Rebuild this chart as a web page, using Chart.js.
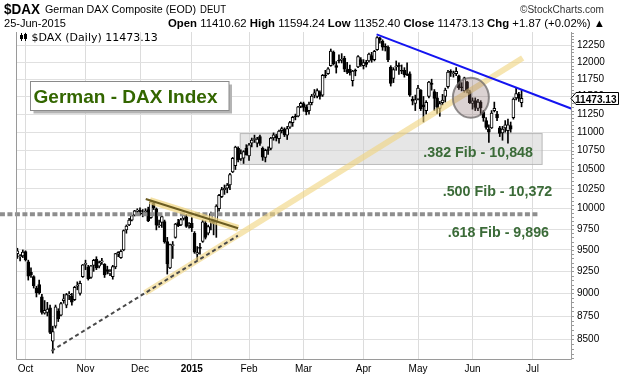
<!DOCTYPE html>
<html><head><meta charset="utf-8">
<script src="https://cdn.jsdelivr.net/npm/chart.js@4.4.1/dist/chart.umd.min.js"></script>
<style>html,body{margin:0;padding:0;background:#fff;}#wrap{width:620px;height:376px;position:relative;}</style>
</head><body><div id="wrap"><canvas id="c" width="620" height="376"></canvas></div>
<script>
// ---------- DATA ----------
const symbol = '$DAX';
const seriesName = 'German DAX Composite (EOD)';
const exchange = 'DEUT';
const dates = [
'2014-09-26','2014-09-29','2014-09-30',
'2014-10-01','2014-10-02','2014-10-06','2014-10-07','2014-10-08','2014-10-09','2014-10-10','2014-10-13','2014-10-14','2014-10-15','2014-10-16','2014-10-17','2014-10-20','2014-10-21','2014-10-22','2014-10-23','2014-10-24','2014-10-27','2014-10-28','2014-10-29','2014-10-30','2014-10-31',
'2014-11-03','2014-11-04','2014-11-05','2014-11-06','2014-11-07','2014-11-10','2014-11-11','2014-11-12','2014-11-13','2014-11-14','2014-11-17','2014-11-18','2014-11-19','2014-11-20','2014-11-21','2014-11-24','2014-11-25','2014-11-26','2014-11-27','2014-11-28',
'2014-12-01','2014-12-02','2014-12-03','2014-12-04','2014-12-05','2014-12-08','2014-12-09','2014-12-10','2014-12-11','2014-12-12','2014-12-15','2014-12-16','2014-12-17','2014-12-18','2014-12-19','2014-12-22','2014-12-23','2014-12-29','2014-12-30',
'2015-01-02','2015-01-05','2015-01-06','2015-01-07','2015-01-08','2015-01-09','2015-01-12','2015-01-13','2015-01-14','2015-01-15','2015-01-16','2015-01-19','2015-01-20','2015-01-21','2015-01-22','2015-01-23','2015-01-26','2015-01-27','2015-01-28','2015-01-29','2015-01-30',
'2015-02-02','2015-02-03','2015-02-04','2015-02-05','2015-02-06','2015-02-09','2015-02-10','2015-02-11','2015-02-12','2015-02-13','2015-02-16','2015-02-17','2015-02-18','2015-02-19','2015-02-20','2015-02-23','2015-02-24','2015-02-25','2015-02-26','2015-02-27',
'2015-03-02','2015-03-03','2015-03-04','2015-03-05','2015-03-06','2015-03-09','2015-03-10','2015-03-11','2015-03-12','2015-03-13','2015-03-16','2015-03-17','2015-03-18','2015-03-19','2015-03-20','2015-03-23','2015-03-24','2015-03-25','2015-03-26','2015-03-27','2015-03-30','2015-03-31',
'2015-04-01','2015-04-02','2015-04-07','2015-04-08','2015-04-09','2015-04-10','2015-04-13','2015-04-14','2015-04-15','2015-04-16','2015-04-17','2015-04-20','2015-04-21','2015-04-22','2015-04-23','2015-04-24','2015-04-27','2015-04-28','2015-04-29','2015-04-30',
'2015-05-04','2015-05-05','2015-05-06','2015-05-07','2015-05-08','2015-05-11','2015-05-12','2015-05-13','2015-05-14','2015-05-15','2015-05-18','2015-05-19','2015-05-20','2015-05-21','2015-05-22','2015-05-25','2015-05-26','2015-05-27','2015-05-28','2015-05-29',
'2015-06-01','2015-06-02','2015-06-03','2015-06-04','2015-06-05','2015-06-08','2015-06-09','2015-06-10','2015-06-11','2015-06-12','2015-06-15','2015-06-16','2015-06-17','2015-06-18','2015-06-19','2015-06-22','2015-06-23','2015-06-24','2015-06-25'
];
// empty future sessions shown on the right of the axis
const futureDates = ['2015-06-26','2015-06-29','2015-06-30','2015-07-01','2015-07-02','2015-07-03','2015-07-06','2015-07-07','2015-07-08','2015-07-09','2015-07-10','2015-07-13','2015-07-14','2015-07-15','2015-07-16','2015-07-17','2015-07-20','2015-07-21'];

const opens = [
9455,9420,9430,
9480,9360,9240,9190,9060,9100,8960,8780,8790,8840,8480,8640,8800,8760,8920,8870,8980,8970,8930,9080,9000,9190,
9330,9300,9180,9320,9390,9310,9360,9330,9270,9220,9190,9300,9450,9410,9500,9740,9800,9860,9920,9970,
9980,9950,9960,9990,9890,10070,10000,9790,9830,9840,9600,9290,9550,9650,9830,9800,9880,9900,9800,
9820,9700,9450,9520,9600,9820,9700,9840,9860,9850,10000,10150,10240,10260,10300,10470,10550,10780,10640,10650,10780,
10680,10850,10900,10850,10940,10780,10660,10760,10780,10920,10950,10910,11020,11040,10960,11070,11130,11220,11220,11360,
11400,11350,11300,11410,11520,11500,11560,11520,11800,11830,11950,12150,11950,12020,12030,12060,11890,11900,11730,11880,11930,12040,
11950,12000,12020,12100,12040,12190,12370,12320,12240,12230,11930,11760,11930,11950,11870,11880,11830,11830,11460,11400,
11460,11590,11380,11300,11500,11680,11570,11480,11330,11410,11500,11640,11850,11830,11830,11800,11640,11580,11710,11570,
11400,11440,11330,11420,11280,11160,11040,11060,11300,11250,11060,10990,11060,11020,11090,11200,11480,11530,11410.62
];
const highs = [
9520,9445,9500,
9490,9380,9290,9200,9080,9150,8990,8920,8900,8870,8640,8870,8830,8900,8990,9000,9020,9000,9080,9130,9140,9330,
9380,9320,9320,9390,9420,9370,9400,9340,9310,9270,9320,9460,9480,9500,9740,9800,9880,9920,9980,10000,
10010,9990,10000,10020,10093,10090,10010,9860,9910,9860,9650,9570,9600,9820,9870,9880,9940,9930,9830,
9890,9720,9540,9580,9860,9850,9800,9960,9870,10050,10180,10270,10300,10320,10450,10660,10810,10800,10760,10750,10830,
10850,10920,10960,10930,10960,10800,10770,10800,10930,10990,10970,11030,11070,11060,11080,11150,11220,11250,11360,11420,
11420,11380,11420,11530,11600,11610,11580,11820,11880,11920,12200,12170,12010,12110,12130,12090,12000,11960,11880,11900,12100,12070,
12040,12030,12140,12150,12180,12390,12380,12340,12280,12250,11950,11920,12020,11990,11960,11920,11990,11860,11500,11520,
11660,11600,11500,11440,11720,11750,11600,11560,11430,11530,11620,11880,11890,11870,11920,11810,11700,11780,11720,11590,
11480,11480,11460,11440,11300,11200,11100,11300,11420,11290,11080,11080,11160,11180,11140,11480,11620,11560,11594.24
];
const lows = [
9400,9370,9410,
9370,9150,9180,9060,8960,8990,8770,8770,8750,8560,8355,8620,8690,8750,8890,8840,8930,8870,8920,9040,8980,9180,
9270,9150,9170,9250,9270,9290,9330,9180,9220,9200,9160,9280,9420,9400,9490,9700,9790,9850,9910,9940,
9920,9900,9920,9840,9880,9990,9740,9770,9770,9580,9219,9280,9400,9640,9780,9790,9860,9770,9760,
9720,9460,9382,9450,9590,9630,9680,9740,9680,9650,9970,10140,10180,10200,10240,10460,10500,10600,10620,10580,10690,
10620,10800,10860,10800,10820,10620,10600,10700,10760,10890,10880,10850,10990,10940,10900,11050,11080,11170,11210,11340,
11290,11240,11250,11380,11480,11480,11460,11500,11770,11820,11940,11960,11840,11990,11990,11860,11830,11810,11650,11800,11920,11940,
11900,11930,12000,12000,12020,12180,12290,12180,12170,12010,11650,11700,11880,11820,11830,11780,11800,11500,11380,11300,
11450,11300,11140,11250,11480,11590,11300,11260,11220,11380,11420,11620,11790,11780,11800,11600,11580,11560,11550,11400,
11320,11300,11300,11240,11150,11040,10860,11050,11280,11160,10940,10890,11000,10850,11000,11180,11450,11430,11352.40
];
const closes = [
9490,9422,9474,
9382,9195,9209,9086,9005,9005,8788,8812,8825,8572,8582,8850,8717,8886,8940,8987,8988,8902,9068,9083,9114,9326,
9338,9167,9315,9377,9291,9351,9369,9210,9248,9252,9306,9456,9473,9483,9732,9785,9861,9915,9974,9980,
9963,9934,9971,9851,10087,10014,9799,9800,9903,9594,9335,9563,9564,9811,9787,9865,9922,9783,9805,
9764,9473,9469,9518,9838,9648,9781,9941,9818,10032,10167,10242,10257,10299,10435,10649,10798,10628,10710,10738,10694,
10828,10891,10911,10905,10846,10663,10753,10752,10919,10963,10924,11014,11050,10961,11051,11131,11206,11210,11352,11402,
11345,11280,11391,11504,11551,11583,11500,11806,11799,11901,12167,11980,11922,12019,12039,11896,11854,11843,11868,11868,12086,11966,
11996,11967,12123,12035,12166,12375,12338,12228,12227,12039,11689,11892,11943,11939,11867,11811,11811,11518,11432,11454,
11621,11327,11350,11416,11709,11674,11472,11351,11400,11447,11592,11853,11849,11836,11864,11625,11625,11771,11577,11413,
11436,11344,11419,11340,11197,11065,11001,11266,11332,11197,10984,11044,11100,11100,11040,11461,11542,11471.26,11473.13
];
const yTicks = [8500,8750,9000,9250,9500,9750,10000,10250,10500,10750,11000,11250,11500,11750,12000,12250];
const yRange = [8294, 12461];
const monthNames = ['Jan','Feb','Mar','Apr','May','Jun','Jul','Aug','Sep','Oct','Nov','Dec'];

// annotations (x = session index, y = index value)
const fibTexts = ['.382 Fib - 10,848', '.500 Fib - 10,372', '.618 Fib - 9,896'];
const fibLine = {x0: -6.4, x1: 191.7, y: 9931};
const fibBox = {x0: 81.6, x1: 192.7, top: 10988, bottom: 10560};
const blueTrend = [[131.8, 12425], [203.4, 11325]];
const yellowTrend = [[46.8, 9005], [185.4, 12064]];
const dashTrend = [[12.5, 8378], [80.9, 9670]];
const oliveTrend = [[47.1, 10122], [81.0, 9760]];
const circleAt = [166.4, 11482];

// ---------- BUILD ----------
const allDates = dates.concat(futureDates);
const monthLabels = allDates.map((d, i) => {
  if (i === 0) return '';
  const m = +d.slice(5, 7), pm = +allDates[i - 1].slice(5, 7);
  if (m === pm) return '';
  return m === 1 ? d.slice(0, 4) : monthNames[m - 1];
});
const last = closes.length - 1;
const FAM = '"Liberation Sans", Arial, Helvetica, sans-serif';

function fitText(ctx, parts, x0, x1, baseline, size, family, color) {
  let w = 0;
  parts.forEach(p => { ctx.font = (p[1] ? 'bold ' : '') + size + 'px ' + family; w += ctx.measureText(p[0]).width; });
  const s = (x1 - x0) / w;
  ctx.save();
  ctx.translate(x0, baseline); ctx.scale(s, 1);
  ctx.fillStyle = color || '#000'; ctx.textBaseline = 'alphabetic'; ctx.textAlign = 'left';
  let cx = 0;
  parts.forEach(p => { ctx.font = (p[1] ? 'bold ' : '') + size + 'px ' + family; ctx.fillText(p[0], cx, 0); cx += ctx.measureText(p[0]).width; });
  ctx.restore();
}
function seg(ctx, x, y, pts, style) {
  ctx.save();
  ctx.strokeStyle = style.color; ctx.lineWidth = style.width; ctx.lineCap = style.cap || 'butt';
  ctx.setLineDash(style.dash || []);
  ctx.beginPath();
  ctx.moveTo(x.getPixelForValue(pts[0][0]), y.getPixelForValue(pts[0][1]));
  ctx.lineTo(x.getPixelForValue(pts[1][0]), y.getPixelForValue(pts[1][1]));
  ctx.stroke(); ctx.restore();
}

const overlay = {
  id: 'overlay',
  beforeDatasetsDraw(chart) {
    const {ctx, scales: {x, y}} = chart;
    const x1 = x.getPixelForValue(fibBox.x0), x2 = x.getPixelForValue(fibBox.x1);
    const y1 = y.getPixelForValue(fibBox.top), y2 = y.getPixelForValue(fibBox.bottom);
    ctx.save();
    ctx.fillStyle = 'rgba(205,205,205,0.5)';
    ctx.fillRect(x1, y1, x2 - x1, y2 - y1);
    ctx.strokeStyle = 'rgba(170,170,170,0.7)'; ctx.lineWidth = 1;
    ctx.strokeRect(x1 + 0.5, y1 + 0.5, x2 - x1 - 1, y2 - y1 - 1);
    ctx.restore();
  },
  afterDatasetsDraw(chart) {
    const {ctx, chartArea: a, scales: {x, y}} = chart;
    // fib .618 dashed level
    seg(ctx, x, y, [[fibLine.x0, fibLine.y], [fibLine.x1, fibLine.y]], {color: '#8e8e8e', width: 4, dash: [5, 2.5]});
    // yellow uptrend band
    seg(ctx, x, y, yellowTrend, {color: 'rgba(240,212,125,0.6)', width: 6});
    // dashed support from October low
    seg(ctx, x, y, dashTrend, {color: '#4a4a4a', width: 2, dash: [4, 3]});
    // olive downtrend with halo
    seg(ctx, x, y, [[oliveTrend[0][0] + 1.5, oliveTrend[0][1] - 20], oliveTrend[1]], {color: 'rgba(240,212,125,0.7)', width: 7});
    seg(ctx, x, y, oliveTrend, {color: '#6b5c22', width: 2});
    // blue resistance
    ctx.save(); ctx.beginPath(); ctx.rect(a.left, 0, a.right - a.left + 3, chart.height); ctx.clip();
    seg(ctx, x, y, blueTrend, {color: '#1414f0', width: 2});
    ctx.restore();
    // gray circle
    const cx = x.getPixelForValue(circleAt[0]), cy = y.getPixelForValue(circleAt[1]);
    ctx.save();
    ctx.beginPath(); ctx.ellipse(cx, cy, 18, 20, 0, 0, Math.PI * 2);
    ctx.fillStyle = 'rgba(125,95,95,0.28)'; ctx.fill();
    ctx.strokeStyle = 'rgba(110,105,105,0.75)'; ctx.lineWidth = 2; ctx.stroke();
    ctx.restore();
    // fib texts
    const fibColor = '#3b6b38';
    fitText(ctx, [[fibTexts[0], 1]], 423.3, 533, 157, 14, FAM, fibColor);
    fitText(ctx, [[fibTexts[1], 1]], 442.7, 552.3, 196, 14, FAM, fibColor);
    fitText(ctx, [[fibTexts[2], 1]], 447.7, 549, 236.7, 14, FAM, fibColor);
    // title box
    ctx.save();
    ctx.fillStyle = '#b4b4b4'; ctx.fillRect(33.5, 84.5, 198.5, 29);
    ctx.fillStyle = '#fff'; ctx.fillRect(30.5, 81.5, 198.5, 29);
    ctx.strokeStyle = '#8a8a8a'; ctx.lineWidth = 1; ctx.strokeRect(30.5, 81.5, 198.5, 29);
    ctx.restore();
    fitText(ctx, [['German - DAX Index', 1]], 33.5, 217.5, 102.7, 18.5, FAM, '#336600');
  },
  afterDraw(chart) {
    const {ctx, chartArea: a, scales: {y}} = chart;
    ctx.save();
    // frame
    ctx.strokeStyle = '#9a9a9a'; ctx.lineWidth = 1;
    ctx.beginPath();
    ctx.moveTo(a.left + 0.5, a.top); ctx.lineTo(a.left + 0.5, a.bottom + 0.5);
    ctx.lineTo(a.right - 0.5, a.bottom + 0.5); ctx.lineTo(a.right - 0.5, a.top);
    ctx.stroke();
    ctx.beginPath();
    for (let v = 8300; v <= 12450; v += 50) {
      const py = Math.round(y.getPixelForValue(v)) + 0.5;
      ctx.moveTo(a.right - 0.5, py); ctx.lineTo(a.right + 2, py);
    }
    ctx.stroke();
    // price tag
    const c = closes[last];
    const py = Math.round(y.getPixelForValue(c)) + 0.5;
    ctx.beginPath();
    ctx.moveTo(a.right - 1, py); ctx.lineTo(a.right + 4, py - 6); ctx.lineTo(618.5, py - 6);
    ctx.lineTo(618.5, py + 6); ctx.lineTo(a.right + 4, py + 6); ctx.closePath();
    ctx.fillStyle = '#fff'; ctx.fill(); ctx.strokeStyle = '#000'; ctx.stroke();
    ctx.restore();
    fitText(ctx, [[c.toFixed(2), 1]], 575, 616.5, py + 4, 11, FAM, '#000');

    // header
    const d = dates[last];
    const dateStr = d.slice(8, 10) + '-' + monthNames[+d.slice(5, 7) - 1] + '-' + d.slice(0, 4);
    const chg = closes[last] - closes[last - 1];
    const pct = chg / closes[last - 1] * 100;
    const sign = chg >= 0 ? '+' : '';
    fitText(ctx, [[symbol, 1]], 4, 40, 14, 15, FAM, '#000');
    fitText(ctx, [[seriesName, 0]], 45, 196, 13, 11, FAM, '#000');
    fitText(ctx, [[exchange, 0]], 200, 226, 13, 11, FAM, '#000');
    fitText(ctx, [['\u00A9StockCharts.com', 0]], 520, 604, 13, 10, FAM, '#333');
    fitText(ctx, [[dateStr, 0]], 4, 66, 27, 11, FAM, '#000');
    fitText(ctx, [['Open ', 1], [opens[last].toFixed(2) + ' ', 0], ['High ', 1], [highs[last].toFixed(2) + ' ', 0],
      ['Low ', 1], [lows[last].toFixed(2) + ' ', 0], ['Close ', 1], [closes[last].toFixed(2) + ' ', 0],
      ['Chg ', 1], [sign + chg.toFixed(2) + ' (' + sign + pct.toFixed(2) + '%) \u25B2', 0]], 168, 605, 27, 11, FAM, '#000');
    // legend inside plot
    ctx.save();
    ctx.strokeStyle = '#000'; ctx.fillStyle = '#000'; ctx.lineWidth = 1;
    ctx.beginPath(); ctx.moveTo(21.5, 33); ctx.lineTo(21.5, 41); ctx.moveTo(25.5, 33); ctx.lineTo(25.5, 41); ctx.stroke();
    ctx.fillRect(20, 35, 3, 4); ctx.strokeRect(24.5, 34.5, 2, 4);
    ctx.restore();
    ctx.save();
    ctx.font = '11px "DejaVu Sans", Verdana, sans-serif'; ctx.fillStyle = '#000';
    ctx.fillText(symbol + ' (Daily) ' + closes[last].toFixed(2), 31.5, 40.7);
    ctx.restore();
  }
};

const wickData = lows.map((l, i) => [l, highs[i]]);
const bodyData = opens.map((o, i) => [o, closes[i]]);
const bodyColors = opens.map((o, i) => closes[i] >= o ? '#ffffff' : '#000000');

new Chart(document.getElementById('c'), {
  type: 'bar',
  data: {
    labels: allDates,
    datasets: [
      {label: 'body', data: bodyData, backgroundColor: bodyColors, borderColor: '#000', borderWidth: 1,
       borderSkipped: false, barThickness: 3, minBarLength: 1, grouped: false, order: 0},
      {label: 'wick', data: wickData, backgroundColor: '#000', borderWidth: 0,
       barThickness: 1, grouped: false, order: 1}
    ]
  },
  options: {
    responsive: false, animation: false, devicePixelRatio: 1,
    layout: {padding: {left: 16, top: 32, right: 0, bottom: 0}},
    plugins: {legend: {display: false}, tooltip: {enabled: false}},
    scales: {
      x: {
        offset: true,
        grid: {offset: false, drawTicks: false, lineWidth: 1,
               color: c => monthLabels[c.index] ? '#dcdcdc' : 'rgba(0,0,0,0)'},
        border: {display: false},
        ticks: {autoSkip: false, maxRotation: 0, minRotation: 0, padding: 4, color: '#000',
                font: c => ({size: 10, family: FAM, weight: (monthLabels[c.index] || '').match(/^\d/) ? 'bold' : 'normal'}),
                callback: (v, i) => monthLabels[i] || ''},
        afterFit: s => { s.height = 17; }
      },
      y: {
        type: 'logarithmic', position: 'right', min: yRange[0], max: yRange[1],
        afterBuildTicks: s => { s.ticks = yTicks.map(v => ({value: v})); },
        grid: {color: '#e0e0e0', drawTicks: false},
        border: {display: false},
        ticks: {padding: 5, color: '#000', font: {size: 10, family: FAM}, callback: v => String(v)},
        afterFit: s => { s.width = 48; }
      }
    }
  },
  plugins: [overlay]
});
</script>
</body></html>
